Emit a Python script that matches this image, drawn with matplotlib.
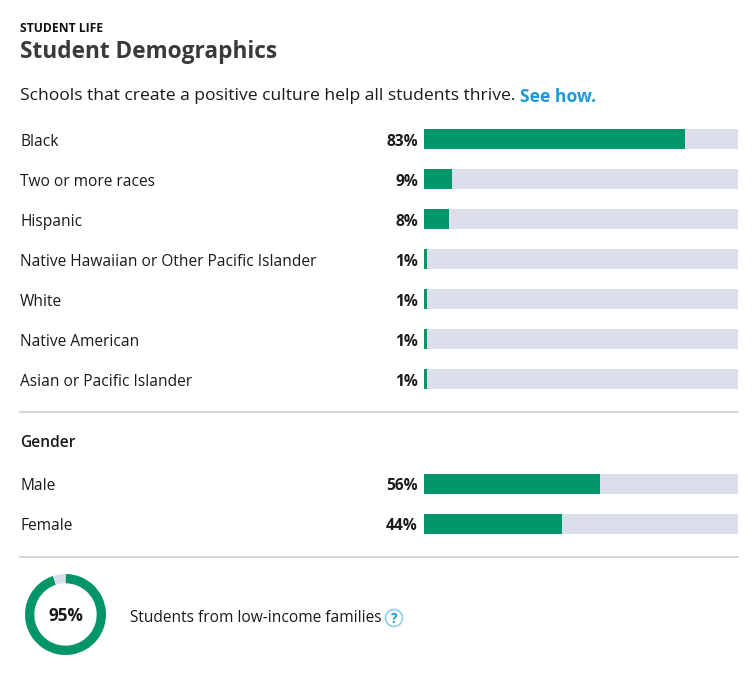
import matplotlib
matplotlib.use("Agg")
import matplotlib.pyplot as plt
import matplotlib.transforms as mtrans
import numpy as np
from matplotlib.patches import Circle

plt.rcParams['font.family'] = ['Open Sans', 'DejaVu Sans']

# data
race_labels = ['Black', 'Two or more races', 'Hispanic',
               'Native Hawaiian or Other Pacific Islander', 'White',
               'Native American', 'Asian or Pacific Islander']
race_values = [83, 9, 8, 1, 1, 1, 1]
gender_labels = ['Male', 'Female']
gender_values = [56, 44]
low_income = 95

GREEN = '#029567'
TRACK = '#dcdeec'
DARK = '#1a1a1a'

W, H = 752, 682
fig = plt.figure(figsize=(W / 100, H / 100), dpi=100)
ax = fig.add_axes([0, 0, 1, 1])
ax.set_xlim(0, W)
ax.set_ylim(H, 0)
ax.axis('off')

# header
ax.text(20, 28, 'STUDENT LIFE', fontsize=8.7, fontweight='bold', color='#111', va='center')
ax.text(20, 52, 'Student Demographics', fontsize=16.3, fontweight='bold', color='#3a3a3a', va='center')
t = ax.text(20, 96.5, 'Schools that create a positive culture help all students thrive. ',
            fontsize=12.6, color=DARK, va='center')
fig.canvas.draw()
bb = t.get_window_extent()
ax.text(bb.x1, 96.5, 'See how.', fontsize=12.6, fontweight='bold', color='#1b9ad6', va='center',
        transform=mtrans.blended_transform_factory(mtrans.IdentityTransform(), ax.transData))

bar_x0, bar_len = 424, 314


def bar_rows(labels, values, y0):
    ys = y0 + 40 * np.arange(len(labels))
    ax.barh(ys, bar_len, left=bar_x0, height=20, color=TRACK, zorder=1)
    ax.barh(ys, np.array(values) / 100 * bar_len, left=bar_x0, height=20, color=GREEN, zorder=2)
    for y, lab, v in zip(ys, labels, values):
        ax.text(20, y + 3, lab, fontsize=11.2, color=DARK, va='center')
        ax.text(418, y + 3, f'{v}%', fontsize=11.2, fontweight='bold', color=DARK,
                va='center', ha='right')


bar_rows(race_labels, race_values, 138.5)
ax.plot([20, 738], [412, 412], color='#cfcfcf', lw=1.2)
ax.text(20, 443, 'Gender', fontsize=11.2, fontweight='semibold', color=DARK, va='center')
bar_rows(gender_labels, gender_values, 483.5)
ax.plot([20, 738], [557, 557], color='#cfcfcf', lw=1.2)

# donut
dax = fig.add_axes([25 / W, 1 - 655 / H, 81 / W, 81 / H])
dax.pie([low_income, 100 - low_income], colors=[GREEN, TRACK], startangle=90,
        counterclock=False, wedgeprops=dict(width=0.23, linewidth=0))
dax.set_xlim(-1, 1)
dax.set_ylim(-1, 1)
dax.set_aspect('equal')
dax.text(0, -0.03, f'{low_income}%', fontsize=12.3, fontweight='bold', color=DARK,
         ha='center', va='center')

ax.text(130, 618, 'Students from low-income families', fontsize=11.2, color=DARK, va='center')
ax.add_patch(Circle((394, 618), 8.5, facecolor='white', edgecolor='#8fd0ee', lw=1.2))
ax.text(394, 619, '?', fontsize=10, fontweight='bold', color='#1b9ad6', ha='center', va='center')

fig.savefig('out.png', dpi=100, facecolor='white')
